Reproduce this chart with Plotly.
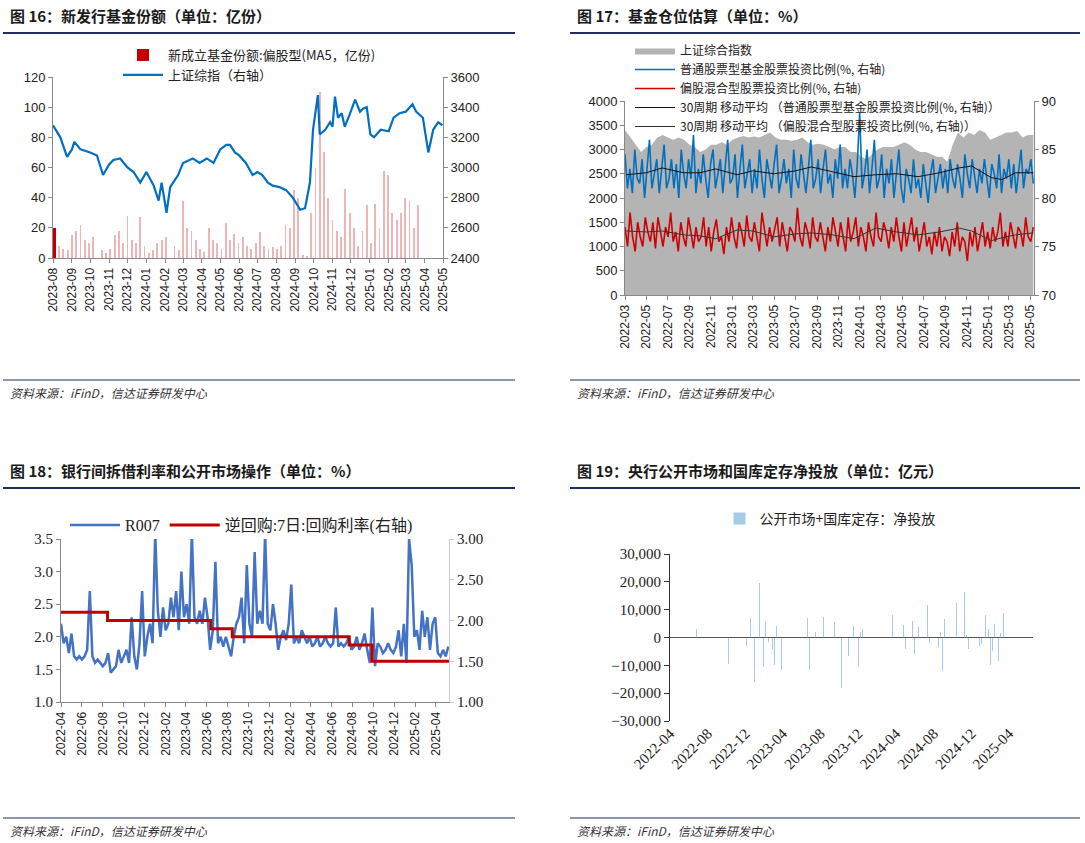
import pandas as pd
import plotly.graph_objects as go

W, H = 1085, 843
OFF = 0  # body margin removed via post_script
def fx(p): return (p - OFF) / W
def fy(p): return 1 - (p - OFF) / H

# ---------------- Panel 1 data ----------------
p1_idx_dates = ["2023-08-01","2023-08-13","2023-08-24","2023-09-01","2023-09-05","2023-09-15","2023-10-01","2023-10-12","2023-10-22",
 "2023-11-01","2023-11-08","2023-11-19","2023-12-01","2023-12-11","2023-12-22","2024-01-01","2024-01-13","2024-01-21","2024-01-26",
 "2024-02-03","2024-02-09","2024-02-22","2024-03-01","2024-03-17","2024-03-28","2024-04-09","2024-04-20","2024-05-01","2024-05-11",
 "2024-05-17","2024-05-25","2024-06-01","2024-06-12","2024-06-23","2024-07-01","2024-07-09","2024-07-18","2024-07-26","2024-08-06",
 "2024-08-17","2024-08-28","2024-09-09","2024-09-17","2024-09-25","2024-09-30","2024-10-08","2024-10-11","2024-10-20","2024-10-28",
 "2024-11-01","2024-11-05","2024-11-10","2024-11-16","2024-11-21","2024-11-29","2024-12-08","2024-12-16","2024-12-21","2024-12-27",
 "2025-01-02","2025-01-08","2025-01-19","2025-02-01","2025-02-09","2025-02-19","2025-03-01","2025-03-12","2025-03-18","2025-03-29",
 "2025-04-07","2025-04-15","2025-04-23","2025-04-30"]
p1_idx_values = [3280,3200,3070,3120,3170,3120,3100,3080,2950,3020,3050,3060,3000,2970,2900,2970,2880,2780,2900,2700,2870,2950,3030,
 3060,3030,3060,3030,3120,3150,3150,3100,3080,3030,2950,2970,2950,2900,2880,2870,2850,2800,2720,2730,2900,3250,3480,3220,3250,3300,
 3270,3470,3330,3360,3270,3350,3450,3370,3390,3400,3220,3200,3250,3240,3330,3360,3370,3420,3370,3330,3100,3250,3300,3280]
p1_bar_values = [20,8,6,5,15,18,22,12,10,14,0,5,3,6,15,18,10,28,12,10,27,8,3,5,10,12,14,0,8,5,38,20,18,12,6,4,
 20,12,10,6,23,12,16,10,14,8,6,10,17,8,6,7,6,8,22,20,45,40,2,1,30,60,110,70,40,25,18,14,46,30,20,8,18,35,10,36,
 20,58,55,30,25,30,40,38,20,35]
p1_bar_dates = pd.date_range("2023-08-04", periods=len(p1_bar_values), freq="W-FRI")

# ---------------- Panel 2 data ----------------
p2_sse_values = [3400,3250,3100,2950,3050,3100,3250,3300,3250,3200,3250,3200,3100,3050,2950,3000,3100,3100,3150,3100,
 3200,3250,3280,3250,3270,3250,3300,3350,3250,3200,3200,3180,3200,3250,3150,3100,3120,3100,3050,3000,3050,3050,2950,2950,
 2850,2800,2900,3000,3050,3050,3050,3100,3150,3100,3000,2950,2950,2900,2850,2850,2750,3100,3350,3250,3350,3300,3400,3350,
 3200,3250,3300,3350,3350,3380,3250,3300,3300]
p2_blue_values = [84.5,81,83,80.5,85,82,81.5,84,80,83,
 86,81,82.5,84,80.5,83,85.5,81,82,84,
 81,83.5,80,85,82.5,81,84,82,86.5,80.5,
 83,81.5,84.5,82,80,83.5,85,81,82.5,84,
 80.5,83,86,81.5,82,84.5,80,83,85.5,81,
 82.5,84,80.5,83,81,85,82,80,84,82.5,
 81,83.5,85.5,80.5,82,84,81.5,83,80,85,
 82,81,84.5,82.5,80.5,83,86,81,82,84,
 80.5,83,85,81.5,82.5,80,84,82,85.5,81,
 83,81,84,82.5,80,83.5,88.8,81,82.5,85,
 80.5,83,86,81,82,84.5,80,83,81.5,84,
 80,82.5,85,81,79.5,83,82,80.5,84,81,
 82,80,83.5,81.5,79.5,82.5,84,80.5,82,83.5,
 81,83,80.5,84,82,81,83.5,82,80,84.5,
 82.5,81,84,82,80.5,83,
 81.5,84,82,80,83.5,82.5,81,84.5,80.5,83,
 82,84,81,83.5,80.5,82.5,85,81,83,82.5,
 84,81.5]
p2_red_values = [77,75,78.5,76,74.5,77.5,76,75,78,76.5,
 75.5,77.5,74.8,78,76.5,75,77,76,78.5,75.5,
 76.5,74.5,77.5,76,75,78,76.5,74.8,77,75.5,
 76,78,75,77,74.5,76.5,77.8,75.5,76,74.2,
 77,75.5,78,76,74.8,77.5,76.5,75,78.2,76,
 75.5,77.5,76,74.5,78.5,76.5,75,77,75.5,76.8,
 78,75,77.5,76,74.5,77,76.5,75.5,79,76,
 75,77.5,76.5,74.8,78,76,75.5,77.5,76,74.5,
 77,75.5,78,76.5,75,77.5,76,74.5,78,75.5,
 76.5,78,75,77,76,74.5,77.5,76,75,78.5,
 76,75.5,77.5,76.5,74.8,77,75.5,78,76,74.5,
 77.5,75,76.5,78,75.5,77,74.5,76,77.5,75,
 76,74.2,76.5,75,77,74.5,76,75.5,74,76.5,
 75,77.5,74.5,76,75.5,73.5,76.5,75,77,74.5,
 76,77.5,75,76.5,74.8,77,75.5,76.5,78.5,75,
 76.5,75,77.5,76,74.8,77,76.5,75,78,76,
 75.5,77]
p2_ma_dates = ["2022-03-05","2022-05-01","2022-06-15","2022-08-15","2022-10-01","2022-11-15","2023-01-15","2023-03-01",
 "2023-05-01","2023-07-01","2023-08-15","2023-10-15","2023-12-15","2024-02-15","2024-04-15","2024-06-15","2024-08-15",
 "2024-10-10","2024-11-15","2025-01-10","2025-02-10","2025-03-20","2025-05-10"]
p2_blue_ma = [82.4,82.6,83.1,82.6,82.6,83.0,82.4,82.8,82.5,82.8,83.2,82.7,82.2,82.4,82.5,82.2,82.6,83.1,83.3,82.1,81.9,82.6,82.6]
p2_red_ma = [76.6,76.5,76.6,76.2,76.1,75.8,76.7,76.6,76.0,76.3,76.4,76.2,75.8,76.9,76.5,76.2,76.5,76.9,76.6,75.6,75.9,76.2,76.4]

# ---------------- Panel 3 data ----------------
p3_r007 = [2.2,1.9,2.0,1.75, 2.05,1.7,1.65,1.7, 1.65,1.7,1.8,2.7, 1.7,1.6,1.65,1.6, 1.55,1.6,1.75,1.45,
 1.5,1.55,1.8,1.6, 1.7,1.8,1.6,2.3, 1.7,1.5,1.9,2.7, 1.7,2.0,2.2,1.9, 3.6,2.4,2.0,2.45, 2.1,2.2,2.6,2.3,
 2.7,2.1,3.0,2.3, 2.5,2.2,3.6,2.3, 2.2,2.4,2.2,2.6, 2.3,1.8,2.1,3.15, 1.9,2.0,1.85,2.0, 1.85,1.7,2.0,2.2,
 2.3,2.6,1.9,3.1, 2.2,2.0,3.3,2.2, 2.4,2.2,3.6,2.2, 2.1,2.5,2.2,1.8, 2.0,2.1,1.95,2.2, 2.8,1.9,2.0,1.9,
 2.1,2.0,1.9,2.0, 1.85,1.9,2.0,1.85, 1.9,2.0,1.9,1.85, 1.9,2.45,1.85,1.9, 1.85,1.9,2.0,1.8, 1.85,2.0,1.8,1.9,
 2.05,1.8,1.6,2.45, 1.55,1.9,1.85,1.75, 1.8,1.9,1.8,1.75, 1.85,2.1,1.7,2.2, 1.6,3.5,3.1,2.0, 2.1,1.8,2.4,2.0,
 2.3,1.8,2.2,2.3, 1.75,1.7,1.8,1.7, 1.85]
p3_repo_dates = ["2022-04-01","2022-08-15","2023-06-13","2023-08-15","2024-07-22","2024-09-27","2025-05-10"]
p3_repo_rates = [2.10,2.00,1.90,1.80,1.70,1.50,1.50]

# ---------------- Panel 4 data ----------------
p4_dates = ["2022-04-01","2022-06-25","2022-06-30","2022-09-25","2022-10-07","2022-10-22","2022-10-28","2022-11-13","2022-11-20",
 "2022-11-27","2022-12-05","2022-12-18","2022-12-25","2022-12-30","2023-01-07","2023-01-15","2023-01-28","2023-02-04","2023-02-13",
 "2023-02-27","2023-03-05","2023-03-11","2023-03-17","2023-03-22","2023-03-28","2023-04-15","2023-04-21","2023-04-27","2023-06-15",
 "2023-06-20","2023-06-26","2023-07-15","2023-07-23","2023-08-10","2023-08-25","2023-08-31","2023-09-15","2023-09-20","2023-10-07",
 "2023-10-13","2023-10-19","2023-10-25","2023-10-31","2023-11-08","2023-11-15","2023-12-01","2023-12-08","2023-12-14","2023-12-20",
 "2023-12-29","2024-01-05","2024-01-11","2024-01-17","2024-01-24","2024-01-30","2024-02-18","2024-02-25","2024-03-03","2024-03-21",
 "2024-03-28","2024-04-05","2024-04-25","2024-05-01","2024-05-24","2024-05-30","2024-06-13","2024-06-21","2024-06-28","2024-07-12",
 "2024-07-18","2024-08-01","2024-08-09","2024-08-16","2024-08-23","2024-08-29","2024-09-05","2024-09-13","2024-09-19","2024-09-26",
 "2024-10-02","2024-10-08","2024-10-14","2024-10-21","2024-11-09","2024-11-15","2024-11-21","2024-11-27","2024-12-03","2024-12-13",
 "2024-12-19","2024-12-27","2025-01-03","2025-01-10","2025-01-16","2025-01-25","2025-02-01","2025-02-07","2025-02-13","2025-02-27",
 "2025-03-05","2025-03-15","2025-03-26","2025-04-01","2025-04-04","2025-04-08","2025-04-27","2025-06-15"]
p4_values = [-5000,3000,-4000,8500,-9500,8200,-7500,3500,-3800,2800,-3000,7000,9500,-16000,2000,19500,-10500,6000,-1500,
 -4500,-9800,4200,-1000,8000,-11500,1500,5000,-7000,4000,7000,-11500,2000,-3000,7500,6800,-6800,5500,11500,-18000,
 7800,13500,-9500,-6500,5000,4000,-10500,2000,3000,12500,-24000,-1800,13000,4000,-2000,-3500,-8500,6200,-11000,8000,
 -4500,-4000,4500,-4000,6000,-6000,3800,3500,-7500,11500,-2000,-7500,17000,-3500,2000,-12000,6500,9000,-3500,2500,
 -13500,5500,12500,-8500,16500,1000,-4000,-11000,1500,11500,-11000,-3000,-2500,14500,8000,3000,-10000,-5000,5000,-8500,
 1500,8800,-5000,-2500,-1500,3000,7500,-1500]

# ---------------- figure ----------------
SANS = "Liberation Sans, Arial, sans-serif"
SERIF = "Liberation Serif, Times New Roman, serif"
CJK = "Noto Sans CJK SC"
fig = go.Figure()

bar_colors = ["#C00000"] + ["rgba(222,120,120,0.55)"] * (len(p1_bar_values) - 1)
fig.add_trace(go.Bar(x=p1_bar_dates, y=p1_bar_values, marker=dict(color=bar_colors, line_width=0),
                     width=3 * 86400000, name="新成立基金份额:偏股型(MA5，亿份)", xaxis="x", yaxis="y", legend="legend"))
fig.add_trace(go.Scatter(x=p1_idx_dates, y=p1_idx_values, mode="lines", line=dict(color="#0070C0", width=2.2),
                         name="上证综指（右轴）", xaxis="x", yaxis="y2", legend="legend"))

d_sse = pd.date_range("2022-03-01", "2025-05-10", periods=len(p2_sse_values))
d_blue = pd.date_range("2022-03-01", "2025-05-10", periods=len(p2_blue_values))
d_red = pd.date_range("2022-03-01", "2025-05-10", periods=len(p2_red_values))
fig.add_trace(go.Scatter(x=d_sse, y=p2_sse_values, mode="lines", fill="tozeroy", fillcolor="#B4B4B4",
                         line=dict(color="#B4B4B4", width=0), name="上证综合指数", xaxis="x2", yaxis="y3", legend="legend2"))
fig.add_trace(go.Scatter(x=d_blue, y=p2_blue_values, mode="lines", line=dict(color="#0070C0", width=1.6),
                         name="普通股票型基金股票投资比例(%, 右轴)", xaxis="x2", yaxis="y4", legend="legend2"))
fig.add_trace(go.Scatter(x=d_red, y=p2_red_values, mode="lines", line=dict(color="#D00000", width=1.6),
                         name="偏股混合型股票投资比例(%, 右轴)", xaxis="x2", yaxis="y4", legend="legend2"))
fig.add_trace(go.Scatter(x=p2_ma_dates, y=p2_blue_ma, mode="lines", line=dict(color="#111111", width=1),
                         name="30周期 移动平均 （普通股票型基金股票投资比例(%, 右轴)）", xaxis="x2", yaxis="y4", legend="legend2"))
fig.add_trace(go.Scatter(x=p2_ma_dates, y=p2_red_ma, mode="lines", line=dict(color="#333333", width=1),
                         name="30周期 移动平均 （偏股混合型股票投资比例(%, 右轴)）", xaxis="x2", yaxis="y4", legend="legend2"))

d_r007 = pd.date_range("2022-04-01", "2025-05-08", periods=len(p3_r007))
fig.add_trace(go.Scatter(x=d_r007, y=p3_r007, mode="lines", line=dict(color="#4472C4", width=2.5),
                         name="R007", xaxis="x3", yaxis="y5", legend="legend3"))
fig.add_trace(go.Scatter(x=p3_repo_dates, y=p3_repo_rates, mode="lines", line=dict(color="#C00000", width=3, shape="hv"),
                         name="逆回购:7日:回购利率(右轴)", xaxis="x3", yaxis="y6", legend="legend3"))

fig.add_trace(go.Bar(x=p4_dates, y=p4_values, marker=dict(color="rgba(91,160,215,0.55)", line_width=0),
                     width=1.5 * 86400000, name="公开市场+国库定存：净投放", xaxis="x4", yaxis="y7", legend="legend4"))

tickf = dict(family=SANS, size=13, color="#222")
xtf = dict(family=SANS, size=12, color="#222")
serf = dict(family=SERIF, size=15, color="#222")
axl = dict(showline=True, linecolor="#888", ticks="outside", ticklen=4, tickcolor="#888", showgrid=False,
           zeroline=False, automargin=False)

fig.update_layout(
    width=W, height=H, margin=dict(l=0, r=0, t=0, b=0, autoexpand=False), paper_bgcolor="white", plot_bgcolor="white",
    showlegend=True, barmode="overlay", bargap=0,
    xaxis=dict(domain=[fx(53), fx(443)], anchor="y", type="date", range=["2023-08-01", "2025-05-01"],
               tickformat="%Y-%m", dtick="M1", tick0="2023-08-01", tickangle=-90, tickfont=xtf, **axl),
    yaxis=dict(domain=[fy(258), fy(77)], anchor="x", range=[0, 120], dtick=20, tickfont=tickf, **axl),
    yaxis2=dict(overlaying="y", side="right", anchor="x", range=[2400, 3600], dtick=200, tickfont=tickf, **axl),
    xaxis2=dict(domain=[fx(625), fx(1034)], anchor="y3", type="date", range=["2022-03-01", "2025-05-12"],
                tickformat="%Y-%m", dtick="M2", tick0="2022-03-01", tickangle=-90, tickfont=xtf, **axl),
    yaxis3=dict(domain=[fy(295), fy(101)], anchor="x2", range=[0, 4000], dtick=500, tickfont=tickf, **axl),
    yaxis4=dict(overlaying="y3", side="right", anchor="x2", range=[70, 90], dtick=5, tickfont=tickf, **axl),
    xaxis3=dict(domain=[fx(61), fx(449)], anchor="y5", type="date", range=["2022-04-01", "2025-05-10"],
                tickformat="%Y-%m", dtick="M2", tick0="2022-04-01", tickangle=-90, tickfont=xtf, **axl),
    yaxis5=dict(domain=[fy(702), fy(539)], anchor="x3", range=[1.0, 3.5], dtick=0.5, tickformat=".1f", tickfont=serf, **axl),
    yaxis6=dict(overlaying="y5", side="right", anchor="x3", range=[1.0, 3.0], dtick=0.5, tickformat=".2f", tickfont=serf,
                showline=True, linecolor="#ccc", ticks="outside", ticklen=4, tickcolor="#ccc", showgrid=False,
                zeroline=False, automargin=False),
    xaxis4=dict(domain=[fx(670), fx(1033)], anchor="y7", type="date", range=["2022-04-01", "2025-06-18"],
                tickformat="%Y-%m", dtick="M4", tick0="2022-04-01", tickangle=-45, tickfont=serf, showline=False,
                ticks="", showgrid=False, zeroline=False, automargin=False),
    yaxis7=dict(domain=[fy(721), fy(554)], anchor="x4", range=[-30000, 30000], dtick=10000, tickformat=",",
                tickfont=serf, showline=True, linecolor="#333", ticks="outside", ticklen=5, tickcolor="#333",
                showgrid=False, zeroline=True, zerolinecolor="#555", zerolinewidth=1, automargin=False),
    legend=dict(x=fx(118), y=fy(40), xanchor="left", yanchor="top", bgcolor="rgba(0,0,0,0)",
                font=dict(family=CJK, size=13, color="#222"), tracegroupgap=0, itemwidth=40),
    legend2=dict(x=fx(630), y=fy(36), xanchor="left", yanchor="top", bgcolor="rgba(0,0,0,0)",
                 font=dict(family=CJK, size=12, color="#222"), tracegroupgap=0, itemwidth=40),
    legend3=dict(x=fx(65), y=fy(508), xanchor="left", yanchor="top", orientation="h", bgcolor="rgba(0,0,0,0)",
                 font=dict(family=SERIF + ", " + CJK, size=16, color="#222"), itemwidth=50),
    legend4=dict(x=fx(830), y=fy(503), xanchor="center", yanchor="top", orientation="h", bgcolor="rgba(0,0,0,0)",
                 font=dict(family=CJK, size=14, color="#222"), itemwidth=30),
)

titles = [(8, 15, "图 16：新发行基金份额（单位：亿份）"), (575, 15, "图 17：基金仓位估算（单位：%）"),
          (8, 470, "图 18：银行间拆借利率和公开市场操作（单位：%）"), (575, 470, "图 19：央行公开市场和国库定存净投放（单位：亿元）")]
for x, y, t in titles:
    fig.add_annotation(x=fx(x), y=fy(y), xref="paper", yref="paper", xanchor="left", yanchor="middle", showarrow=False,
                       text="<b>" + t + "</b>", font=dict(family=CJK, size=15, color="#1a1a1a"))
for x, y in [(8, 392), (575, 392), (8, 830), (575, 830)]:
    fig.add_annotation(x=fx(x), y=fy(y), xref="paper", yref="paper", xanchor="left", yanchor="middle", showarrow=False,
                       text="<i>资料来源：iFinD，信达证券研发中心</i>", font=dict(family=CJK, size=12, color="#333"))
for x0, x1 in [(3, 515), (570, 1080)]:
    for y, wdt in [(33, 2), (380, 1.2), (488, 2), (818, 1.2)]:
        fig.add_shape(type="line", xref="paper", yref="paper", x0=fx(x0), x1=fx(x1), y0=fy(y), y1=fy(y),
                      line=dict(color="#1F2F5F", width=wdt))

fig.write_html("out.html", config={"displayModeBar": False},
               post_script="document.body.style.margin='0';document.body.style.overflow='hidden';")
